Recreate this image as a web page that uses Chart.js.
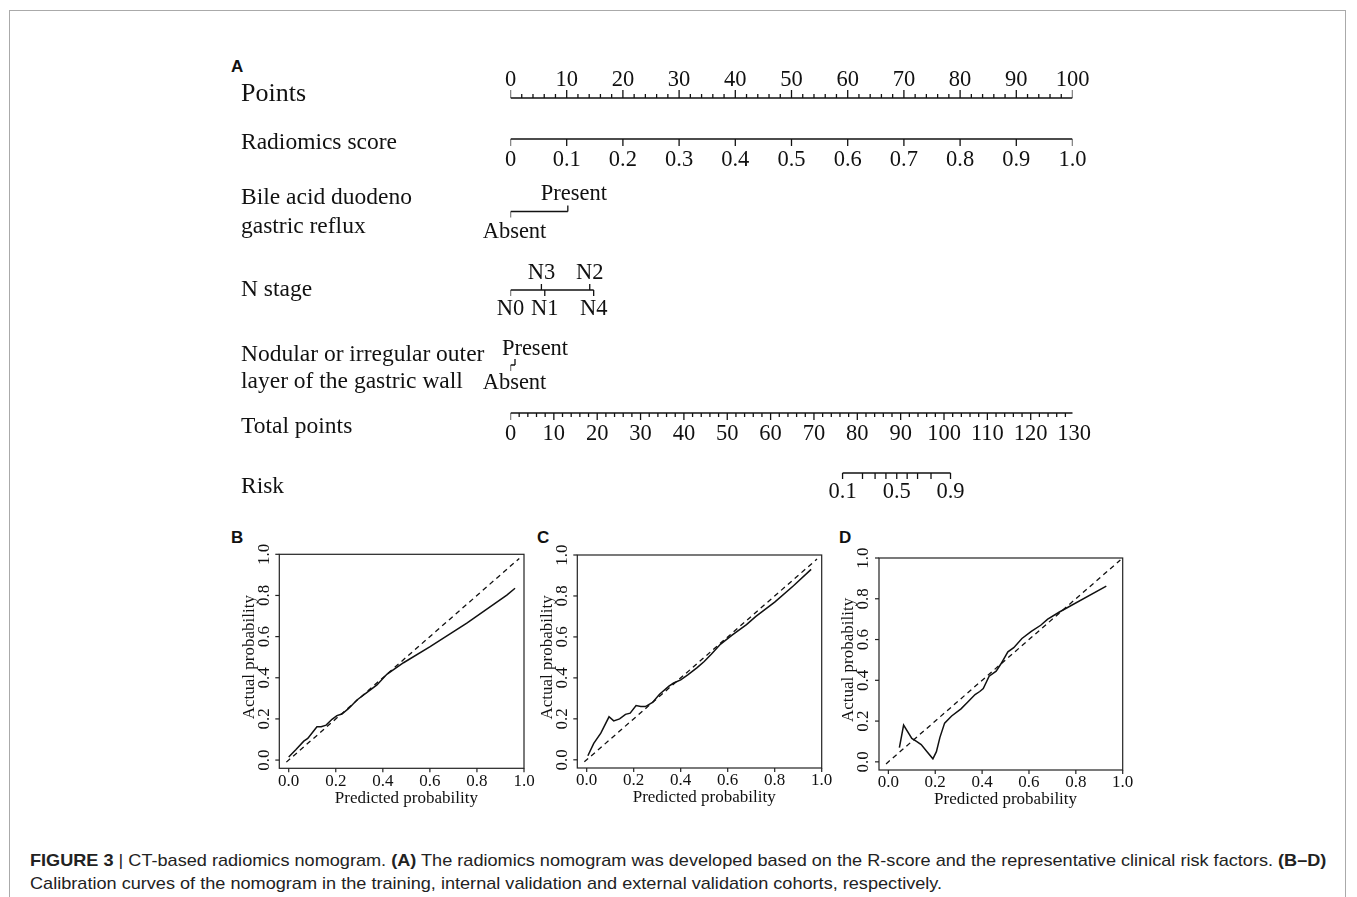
<!DOCTYPE html>
<html>
<head>
<meta charset="utf-8">
<script src="https://cdn.jsdelivr.net/npm/chart.js@4.4.1/dist/chart.umd.min.js"></script>
<style>
  body { margin: 0; background: #fff; width: 1357px; height: 897px; overflow: hidden; position: relative; }
  .frame { position: absolute; left: 9px; top: 10px; width: 1335px; height: 900px; border: 1px solid #aaa; }
  canvas { position: absolute; }
  .panel { position: absolute; font-family: 'Liberation Sans', Arial, sans-serif; font-weight: bold; font-size: 17px; color: #111; line-height: 1; }
  .cap { position: absolute; left: 30px; font-family: 'Liberation Sans Narrow', 'Liberation Sans', Arial, sans-serif; font-size: 17px; white-space: nowrap; transform-origin: 0 50%; color: #222; line-height: 1; }
  .cap b { font-weight: bold; }
</style>
</head>
<body>
<div class="frame"></div>
<div class="panel" style="left:231px;top:58px">A</div>
<div class="panel" style="left:231px;top:529px">B</div>
<div class="panel" style="left:537px;top:529px">C</div>
<div class="panel" style="left:839px;top:529px">D</div>

<canvas id="nomo" width="880" height="460" style="left:220px;top:50px"></canvas>
<canvas id="calB" width="310" height="290" style="left:230px;top:530px"></canvas>
<canvas id="calC" width="310" height="290" style="left:528px;top:530px"></canvas>
<canvas id="calD" width="310" height="290" style="left:830px;top:530px"></canvas>

<div class="cap" id="cap1" style="top:852px"><b>FIGURE 3</b> | CT-based radiomics nomogram. <b>(A)</b> The radiomics nomogram was developed based on the R-score and the representative clinical risk factors. <b>(B–D)</b></div>
<div class="cap" id="cap2" style="top:875px">Calibration curves of the nomogram in the training, internal validation and external validation cohorts, respectively.</div>

<script>
// ---- nomogram values (in points) ----
const pointsTicks = [0, 10, 20, 30, 40, 50, 60, 70, 80, 90, 100];
const radiomicsTicks = [0, 0.1, 0.2, 0.3, 0.4, 0.5, 0.6, 0.7, 0.8, 0.9, 1.0];
const radiomicsLabels = ['0', '0.1', '0.2', '0.3', '0.4', '0.5', '0.6', '0.7', '0.8', '0.9', '1.0'];
const bileLevels = ['Absent', 'Present'];
const bilePoints = [0, 10.2];
const nStageLevels = ['N0', 'N3', 'N1', 'N2', 'N4'];
const nStagePoints = [0, 5.5, 6.1, 14.1, 14.8];
const nodularLevels = ['Absent', 'Present'];
const nodularPoints = [0, 0.8];
const totalTicks = [0, 10, 20, 30, 40, 50, 60, 70, 80, 90, 100, 110, 120, 130];
const riskTicks = [0.1, 0.2, 0.3, 0.4, 0.5, 0.6, 0.7, 0.8, 0.9];
const riskTotalPoints = [76.6, 81.2, 84.1, 86.6, 89.1, 91.5, 93.9, 97.0, 101.5];
const riskLabels = ['0.1', '', '', '', '0.5', '', '', '', '0.9'];

// ---- calibration curves ----
const calTicks = [0, 0.2, 0.4, 0.6, 0.8, 1.0];
const calTickLabels = ['0.0', '0.2', '0.4', '0.6', '0.8', '1.0'];
const idealB = [-0.01, 0.98];
const idealC = [-0.01, 0.98];
const idealD = [-0.01, 0.99];
const predB = [0.0, 0.03, 0.064, 0.081, 0.105, 0.12, 0.138, 0.159, 0.184, 0.205, 0.226, 0.255, 0.29, 0.333, 0.375, 0.417, 0.488, 0.601, 0.757, 0.927, 0.962];
const actB  = [0.015, 0.05, 0.092, 0.105, 0.14, 0.162, 0.162, 0.17, 0.198, 0.216, 0.224, 0.251, 0.292, 0.329, 0.365, 0.417, 0.473, 0.551, 0.665, 0.802, 0.835];
const predC = [0.005, 0.03, 0.06, 0.095, 0.115, 0.14, 0.165, 0.185, 0.21, 0.23, 0.25, 0.28, 0.31, 0.35, 0.37, 0.40, 0.43, 0.47, 0.50, 0.53, 0.57, 0.62, 0.68, 0.72, 0.80, 0.88, 0.955];
const actC  = [0.02, 0.08, 0.13, 0.21, 0.19, 0.20, 0.222, 0.228, 0.265, 0.26, 0.26, 0.28, 0.32, 0.36, 0.375, 0.39, 0.415, 0.45, 0.48, 0.515, 0.565, 0.61, 0.66, 0.70, 0.77, 0.85, 0.93];
const predD = [0.047, 0.065, 0.1, 0.12, 0.14, 0.165, 0.19, 0.205, 0.22, 0.24, 0.27, 0.31, 0.34, 0.37, 0.39, 0.405, 0.43, 0.46, 0.48, 0.51, 0.535, 0.57, 0.61, 0.65, 0.68, 0.73, 0.93];
const actD  = [0.07, 0.18, 0.115, 0.1, 0.085, 0.05, 0.015, 0.05, 0.12, 0.19, 0.225, 0.26, 0.295, 0.33, 0.345, 0.36, 0.42, 0.445, 0.48, 0.54, 0.56, 0.605, 0.64, 0.67, 0.70, 0.735, 0.862];

// ---- layout (page y of each row) ----
const row = {
  points: 98, radiomics: 139, bile: 211.5, nstage: 290, nodular: 365, total: 413, risk: 473
};
const nStageSide = [1, -1, 1, -1, 1];   // 1 = tick/label below, -1 = above
const binarySide = [1, -1];
const serif = '"Liberation Serif", "Times New Roman", serif';
const ink = '#111';

function tickData(vals, y0, y1) {
  const d = [];
  vals.forEach(v => { d.push({ x: v, y: y0 }, { x: v, y: y1 }, { x: v, y: null }); });
  return d;
}
function sideTicks(vals, y0, sides, len) {
  return vals.flatMap((p, i) => [{ x: p, y: y0 }, { x: p, y: y0 + len * sides[i] }, { x: p, y: null }]);
}
function seg(a, b, y) { return [{ x: a, y: y }, { x: b, y: y }]; }

const minorPts = [];
for (let v = 0; v <= 100; v += 2) if (v % 10) minorPts.push(v);
const minorTot = [];
for (let v = 0; v <= 130; v += 2) if (v % 10) minorTot.push(v);

function ds(data, axis) {
  return { data: data, xAxisID: axis || 'x', showLine: true, spanGaps: false, borderColor: ink, borderWidth: 1.3, pointRadius: 0, tension: 0 };
}

const nomoDatasets = [
  ds(seg(0, 100, row.points)),
  ds(tickData(pointsTicks, row.points, row.points - 8)),
  ds(tickData(minorPts, row.points, row.points - 4)),
  ds(seg(0, 100, row.radiomics)),
  ds(tickData(radiomicsTicks.map(v => v * 100), row.radiomics, row.radiomics + 7)),
  ds(seg(bilePoints[0], bilePoints[1], row.bile)),
  ds(sideTicks(bilePoints, row.bile, binarySide, 6)),
  ds(seg(0, Math.max(...nStagePoints), row.nstage)),
  ds(sideTicks(nStagePoints, row.nstage, nStageSide, 6)),
  ds(seg(nodularPoints[0], nodularPoints[1], row.nodular)),
  ds(sideTicks(nodularPoints, row.nodular, binarySide, 6)),
  ds(seg(0, 130, row.total), 'xt'),
  ds(tickData(totalTicks, row.total, row.total + 7), 'xt'),
  ds(tickData(minorTot, row.total, row.total + 4), 'xt'),
  ds(seg(riskTotalPoints[0], riskTotalPoints[riskTotalPoints.length - 1], row.risk), 'xt'),
  ds(tickData(riskTotalPoints, row.risk, row.risk + 6), 'xt')
];

const nomoText = {
  id: 'nomoText',
  afterDatasetsDraw(chart) {
    const { ctx, scales } = chart;
    const X = scales.x, XT = scales.xt, Y = scales.y;
    const px = v => X.getPixelForValue(v);
    const pt = v => XT.getPixelForValue(v);
    const py = v => Y.getPixelForValue(v);
    ctx.save();
    ctx.fillStyle = ink;
    ctx.textBaseline = 'middle';
    // row titles
    ctx.textAlign = 'left';
    const lx = 21;
    ctx.font = '26px ' + serif;
    ctx.fillText('Points', lx, py(94));
    ctx.font = '23.5px ' + serif;
    ctx.fillText('Radiomics score', lx, py(143));
    ctx.fillText('Bile acid duodeno', lx, py(198));
    ctx.fillText('gastric reflux', lx, py(227));
    ctx.fillText('N stage', lx, py(290));
    ctx.fillText('Nodular or irregular outer', lx, py(355));
    ctx.fillText('layer of the gastric wall', lx, py(382));
    ctx.fillText('Total points', lx, py(427));
    ctx.fillText('Risk', lx, py(487));
    // axis labels
    ctx.textAlign = 'center';
    ctx.font = '22.5px ' + serif;
    pointsTicks.forEach(v => ctx.fillText(String(v), px(v), py(80)));
    radiomicsTicks.forEach((v, i) => ctx.fillText(radiomicsLabels[i], px(v * 100), py(160)));
    bileLevels.forEach((l, i) => ctx.fillText(l, px(bilePoints[i]) + (i ? 6 : 4), py(binarySide[i] > 0 ? 232 : 194)));
    nStageLevels.forEach((l, i) => ctx.fillText(l, px(nStagePoints[i]), py(nStageSide[i] > 0 ? 309 : 273)));
    nodularLevels.forEach((l, i) => ctx.fillText(l, px(nodularPoints[i]) + (i ? 20 : 4), py(binarySide[i] > 0 ? 383 : 349)));
    totalTicks.forEach(v => ctx.fillText(String(v), pt(v), py(434)));
    riskTicks.forEach((v, i) => { if (riskLabels[i]) ctx.fillText(riskLabels[i], pt(riskTotalPoints[i]), py(492)); });
    ctx.restore();
  }
};

new Chart(document.getElementById('nomo'), {
  type: 'scatter',
  data: { datasets: nomoDatasets },
  options: {
    responsive: false, animation: false, events: [],
    layout: { padding: { left: 290.5, right: 27.5, top: 0, bottom: 0 } },
    plugins: { legend: { display: false }, tooltip: { enabled: false } },
    scales: {
      x: { type: 'linear', display: false, min: 0, max: 100 },
      xt: { type: 'linear', display: false, min: 0, max: 129.64 },
      y: { type: 'linear', display: false, min: 50, max: 510, reverse: true }
    }
  },
  plugins: [nomoText]
});

// ---- calibration panels ----
const calibFrame = {
  id: 'calibFrame',
  afterDraw(chart) {
    const { ctx, chartArea: a, scales: { x, y } } = chart;
    ctx.save();
    ctx.strokeStyle = '#222';
    ctx.lineWidth = 1.2;
    ctx.strokeRect(a.left, a.top, a.right - a.left, a.bottom - a.top);
    ctx.fillStyle = ink;
    ctx.font = '17px ' + serif;
    ctx.textAlign = 'center';
    ctx.textBaseline = 'middle';
    calTicks.forEach((t, i) => {
      const xp = x.getPixelForValue(t);
      ctx.beginPath(); ctx.moveTo(xp, a.bottom); ctx.lineTo(xp, a.bottom + 4); ctx.stroke();
      ctx.fillText(calTickLabels[i], xp, a.bottom + 13);
      const yp = y.getPixelForValue(t);
      ctx.beginPath(); ctx.moveTo(a.left, yp); ctx.lineTo(a.left - 4, yp); ctx.stroke();
      ctx.save(); ctx.translate(a.left - 15, yp); ctx.rotate(-Math.PI / 2);
      ctx.fillText(calTickLabels[i], 0, 0); ctx.restore();
    });
    ctx.font = '17px ' + serif;
    const cx = (x.getPixelForValue(0) + x.getPixelForValue(1)) / 2;
    ctx.fillText('Predicted probability', cx, a.bottom + 30);
    const cy = (y.getPixelForValue(0) + y.getPixelForValue(1)) / 2;
    ctx.save(); ctx.translate(a.left - 30, cy); ctx.rotate(-Math.PI / 2);
    ctx.fillText('Actual probability', 0, 0); ctx.restore();
    ctx.restore();
  }
};

function calibChart(id, pred, act, ideal, pad) {
  new Chart(document.getElementById(id), {
    type: 'scatter',
    data: {
      datasets: [
        { data: ideal.map(v => ({ x: v, y: v })), showLine: true, borderColor: ink, borderWidth: 1.3, borderDash: [5, 4], pointRadius: 0 },
        { data: pred.map((p, i) => ({ x: p, y: act[i] })), showLine: true, borderColor: ink, borderWidth: 1.5, pointRadius: 0, tension: 0 }
      ]
    },
    options: {
      responsive: false, animation: false, events: [],
      layout: { padding: pad },
      plugins: { legend: { display: false }, tooltip: { enabled: false } },
      scales: {
        x: { type: 'linear', display: false, min: -0.04, max: 1.0 },
        y: { type: 'linear', display: false, min: -0.04, max: 1.0 }
      }
    },
    plugins: [calibFrame]
  });
}

calibChart('calB', predB, actB, idealB, { left: 49.3, right: 16, top: 24.3, bottom: 51.7 });
calibChart('calC', predC, actC, idealC, { left: 49.3, right: 16.3, top: 25, bottom: 52 });
calibChart('calD', predD, actD, idealD, { left: 49, right: 17.3, top: 28, bottom: 50 });

// caption width fit
const c1 = document.getElementById('cap1'), c2 = document.getElementById('cap2');
const s = 1296 / c1.offsetWidth;
c1.style.transform = 'scaleX(' + s + ')';
c2.style.transform = 'scaleX(' + s + ')';
</script>
</body>
</html>
